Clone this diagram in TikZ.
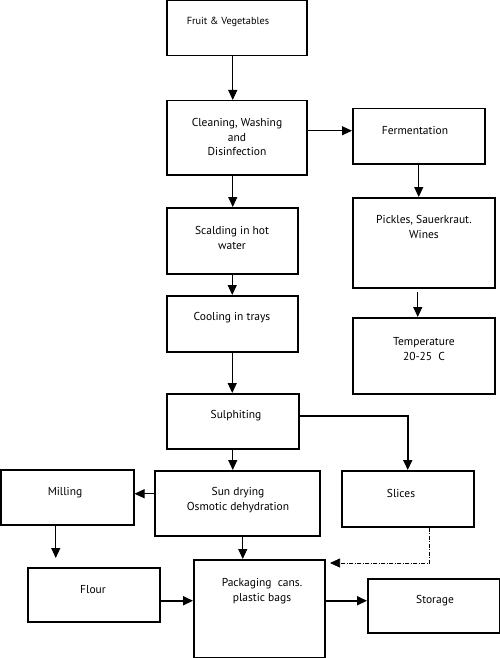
\documentclass[tikz,border=0pt]{standalone}
\usepackage{fontspec}
\setmainfont{PT Sans}
\usetikzlibrary{arrows.meta}
\begin{document}
\begin{tikzpicture}[x=1pt,y=-1pt,
  box/.style={draw, line width=1.5pt, inner sep=0pt, anchor=north west},
  lbl/.style={font=\fontsize{11.5}{14.5}\selectfont, align=center, inner sep=0pt},
  arr/.style={-{Triangle[length=10pt,width=9pt]}, line width=1pt},
  thickarr/.style={-{Triangle[length=10pt,width=9pt]}, line width=2pt},
  dd/.style={-{Triangle[length=10pt,width=9pt]}, line width=0.7pt, dash pattern=on 4pt off 1.5pt on 1pt off 1.5pt}]
\useasboundingbox (0,0) rectangle (500,658);
% boxes
\node[box, minimum width=140pt, minimum height=55pt] (fv) at (166,0) {};
\node[box, minimum width=140pt, minimum height=74pt] (clean) at (166,100) {};
\node[box, minimum width=132pt, minimum height=55pt] (ferm) at (352,108) {};
\node[box, minimum width=131pt, minimum height=66pt] (scald) at (166,207) {};
\node[box, minimum width=142pt, minimum height=90pt] (pick) at (352,197) {};
\node[box, minimum width=131pt, minimum height=56pt] (cool) at (166,295) {};
\node[box, minimum width=142pt, minimum height=76pt] (temp) at (352,317) {};
\node[box, minimum width=132pt, minimum height=55pt] (sulph) at (166,393) {};
\node[box, minimum width=165pt, minimum height=65pt] (sun) at (154,470) {};
\node[box, minimum width=132pt, minimum height=56pt] (slices) at (341,470) {};
\node[box, minimum width=133pt, minimum height=55pt] (mill) at (0,469) {};
\node[box, minimum width=132pt, minimum height=54pt] (flour) at (27,567) {};
\node[box, minimum width=131pt, minimum height=98pt] (pack) at (193,559) {};
\node[box, minimum width=132pt, minimum height=54pt] (stor) at (367,578) {};
% labels
\node[lbl, font=\fontsize{10.3}{13}\selectfont] (tfv) at (228,22) {Fruit \& Vegetables};
\node[lbl] (tclean) at (237,137) {Cleaning, Washing\\and\\Disinfection};
\node[lbl] (tferm) at (415,130) {Fermentation};
\node[lbl] (tscald) at (232,238) {Scalding in hot\\water};
\node[lbl] (tpick) at (424,227) {Pickles, Sauerkraut.\\Wines};
\node[lbl] (tcool) at (232,318) {Cooling in trays};
\node[lbl] (ttemp) at (424,349) {Temperature\\20-25\ \ C};
\node[lbl] (tsulph) at (236,416) {Sulphiting};
\node[lbl] (tsun) at (238,500) {Sun drying\\Osmotic dehydration};
\node[lbl] (tslices) at (401,493) {Slices};
\node[lbl] (tmill) at (65,493) {Milling};
\node[lbl] (tflour) at (93,590) {Flour};
\node[lbl] (tpack) at (262,591) {Packaging\ \ cans.\\plastic bags};
\node[lbl] (tstor) at (435,601) {Storage};
% connectors
\draw[arr] ([xshift=-4pt]fv.south) -- ([xshift=-4pt]fv.south |- clean.north);
\draw[arr] ([yshift=7pt]clean.east) -- ([yshift=7pt]clean.east -| ferm.west);
\draw[arr] (ferm.south) -- (ferm.south |- pick.north);
\draw[arr] ([xshift=-6pt,yshift=-3pt]pick.south) -- ([xshift=-6pt]temp.north);
\draw[arr] ([xshift=-4pt]clean.south) -- ([xshift=-4pt]clean.south |- scald.north);
\draw[arr] (scald.south) -- (scald.south |- cool.north);
\draw[arr] (cool.south) -- (cool.south |- sulph.north);
\draw[thickarr] ([yshift=5.5pt]sulph.east) -| (slices.north);
\draw[arr] (sulph.south) -- (sulph.south |- sun.north);
\draw[arr] ([yshift=9.5pt]sun.west) -- ([yshift=9.5pt]sun.west -| mill.east);
\draw[arr] ([xshift=-11.5pt]mill.south) -- ([xshift=-11.5pt,yshift=9pt]mill.south |- flour.north);
\draw[arr] ([xshift=5.5pt]sun.south) -- ([xshift=5.5pt]sun.south |- pack.north);
\coordinate (ddend) at (330,563);
\draw[dd] ([xshift=22pt]slices.south) |- (ddend);
\draw[thickarr] ([yshift=-6pt]flour.east) -- ([yshift=-6pt]flour.east -| pack.west);
\draw[thickarr] ([yshift=5pt]stor.west -| pack.east) -- ([yshift=5pt]stor.west);
\end{tikzpicture}
\end{document}
